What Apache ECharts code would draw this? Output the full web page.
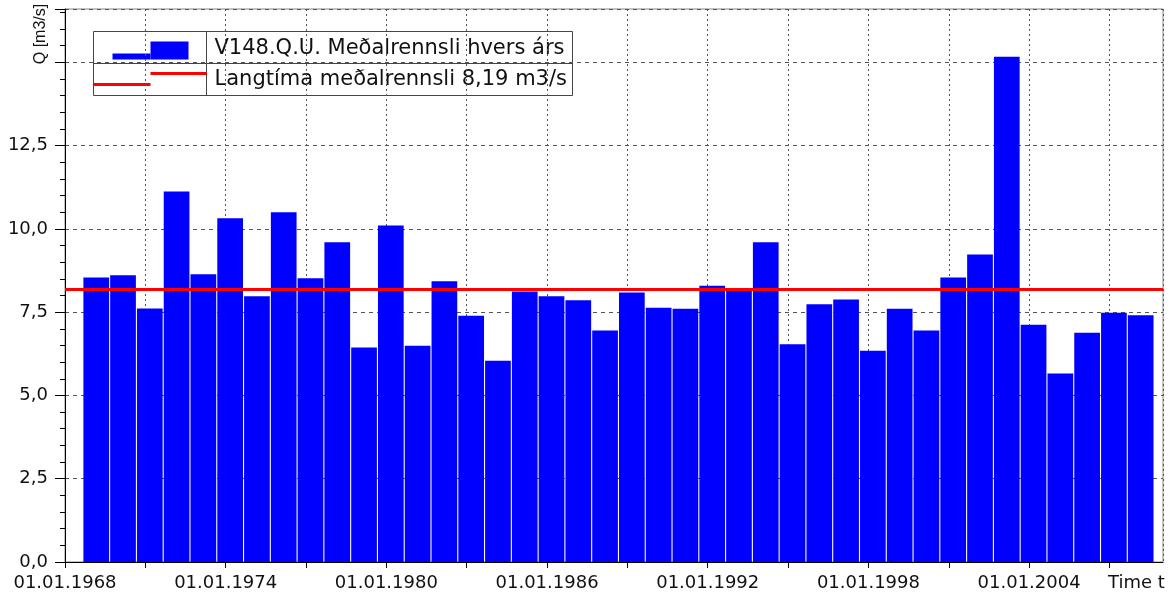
<!DOCTYPE html>
<html>
<head>
<meta charset="utf-8">
<script src="https://cdn.jsdelivr.net/npm/echarts@6/dist/echarts.min.js"></script>
<style>
  html, body { margin: 0; padding: 0; background: #fff; }
  #chart { width: 1171px; height: 593px; }
</style>
</head>
<body>
<div id="chart"></div>
<script>
// hydrological years (start 1 Sept), 1968/69 .. 2007/08
var years = [1968, 1969, 1970, 1971, 1972, 1973, 1974, 1975, 1976, 1977,
  1978, 1979, 1980, 1981, 1982, 1983, 1984, 1985, 1986, 1987,
  1988, 1989, 1990, 1991, 1992, 1993, 1994, 1995, 1996, 1997,
  1998, 1999, 2000, 2001, 2002, 2003, 2004, 2005, 2006, 2007]
// yearly mean discharge, m3/s
var flow = [8.54, 8.61, 7.61, 11.12, 8.64, 10.32, 7.98, 10.5, 8.52, 9.6,
  6.44, 10.1, 6.49, 8.43, 7.39, 6.04, 8.12, 7.98, 7.86, 6.95,
  8.09, 7.63, 7.6, 8.29, 8.22, 9.6, 6.54, 7.74, 7.88, 6.34,
  7.6, 6.95, 8.54, 9.23, 15.17, 7.12, 5.66, 6.88, 7.48, 7.41]
var longTermMean = 8.19
var yTicks = [0, 2.5, 5, 7.5, 10, 12.5, 15]

var seriesName = 'V148.Q.U. Meðalrennsli hvers árs'
var meanName = 'Langtíma meðalrennsli 8,19 m3/s'

// bar sits in the middle of the water year (Sept -> Aug)
var barData = years.map(function (y, i) {
  return [y + 8 / 12 + 0.5, flow[i]]
})

var chart = echarts.init(document.getElementById('chart'))

var labelFont = 'DejaVu Sans'

chart.setOption({
  animation: false,
  grid: {
    left: 65,
    right: 8,
    top: 9,
    bottom: 31,
    show: true,
    borderColor: '#888',
    borderWidth: 1
  },
  xAxis: {
    type: 'value',
    min: 1968,
    max: 2009,
    interval: 3,
    name: 'Time t',
    nameLocation: 'end',
    nameGap: -55,
    nameTextStyle: {
      fontFamily: labelFont,
      fontSize: 18,
      color: '#111',
      verticalAlign: 'top',
      padding: [12, 0, 0, 0]
    },
    axisLine: { lineStyle: { color: '#000' } },
    axisTick: { length: 6, lineStyle: { color: '#000' } },
    axisLabel: {
      margin: 12,
      fontFamily: labelFont,
      fontSize: 18,
      color: '#111',
      showMaxLabel: false,
      formatter: function (v) {
        if ((v - 1968) % 6 === 0 && v <= 2004) return '01.01.' + v
        return ''
      }
    },
    splitLine: {
      show: true,
      lineStyle: { color: '#555', type: [2, 3], width: 1 }
    }
  },
  yAxis: [
    {
      type: 'value',
      min: 0,
      max: 16.6,
      interval: 2.5,
      axisLine: { show: true, lineStyle: { color: '#000' } },
      axisTick: { show: true, length: 10, lineStyle: { color: '#000' } },
      axisLabel: {
        margin: 17,
        fontFamily: labelFont,
        fontSize: 18,
        color: '#111',
        formatter: function (v) {
          if (yTicks.indexOf(v) >= 0 && v < 15) return v.toFixed(1).replace('.', ',')
          return ''
        }
      },
      splitLine: {
        show: true,
        lineStyle: { color: '#555', type: [4, 4], width: 1 }
      }
    },
    {
      // minor ticks every 0.5
      type: 'value',
      min: 0,
      max: 16.6,
      interval: 0.5,
      position: 'left',
      axisLine: { show: false },
      axisTick: { show: true, length: 5, lineStyle: { color: '#000' } },
      axisLabel: { show: false },
      splitLine: { show: false }
    }
  ],
  series: [
    {
      name: seriesName,
      type: 'bar',
      barWidth: '96%',
      data: barData,
      itemStyle: { color: '#0000ff' },
      markLine: {
        silent: true,
        symbol: 'none',
        label: { show: false },
        lineStyle: { color: '#ff0000', width: 3, type: 'solid' },
        data: [{ name: meanName, yAxis: longTermMean }]
      }
    }
  ],
  graphic: [
    {
      // y axis title, reads bottom to top
      type: 'text',
      x: 41,
      y: 34,
      rotation: Math.PI / 2,
      style: {
        text: 'Q [m3/s]',
        fontFamily: 'Liberation Sans',
        fontSize: 16,
        fill: '#111',
        align: 'center',
        verticalAlign: 'middle'
      }
    },
    {
      type: 'group',
      left: 91,
      top: 29,
      z: 100,
      children: [
        { type: 'rect', shape: { x: 0, y: 0, width: 479, height: 64 },
          style: { fill: '#fff', stroke: '#444', lineWidth: 1 } },
        { type: 'line', shape: { x1: 113, y1: 0, x2: 113, y2: 64 },
          style: { stroke: '#444', lineWidth: 1 } },
        { type: 'line', shape: { x1: 0, y1: 32, x2: 479, y2: 32 },
          style: { stroke: '#444', lineWidth: 1 } },
        { type: 'rect', shape: { x: 19, y: 22, width: 38, height: 6 },
          style: { fill: '#0000ff' } },
        { type: 'rect', shape: { x: 57, y: 10, width: 38, height: 18 },
          style: { fill: '#0000ff' } },
        { type: 'line', shape: { x1: 57, y1: 42, x2: 113, y2: 42 },
          style: { stroke: '#ff0000', lineWidth: 3 } },
        { type: 'line', shape: { x1: 0, y1: 53, x2: 57, y2: 53 },
          style: { stroke: '#ff0000', lineWidth: 3 } },
        { type: 'text', x: 121, y: 17,
          style: { text: seriesName, fontFamily: labelFont, fontSize: 21,
            fill: '#111', verticalAlign: 'middle' } },
        { type: 'text', x: 121, y: 48,
          style: { text: meanName, fontFamily: labelFont, fontSize: 21,
            fill: '#111', verticalAlign: 'middle' } }
      ]
    }
  ]
})
</script>
</body>
</html>
